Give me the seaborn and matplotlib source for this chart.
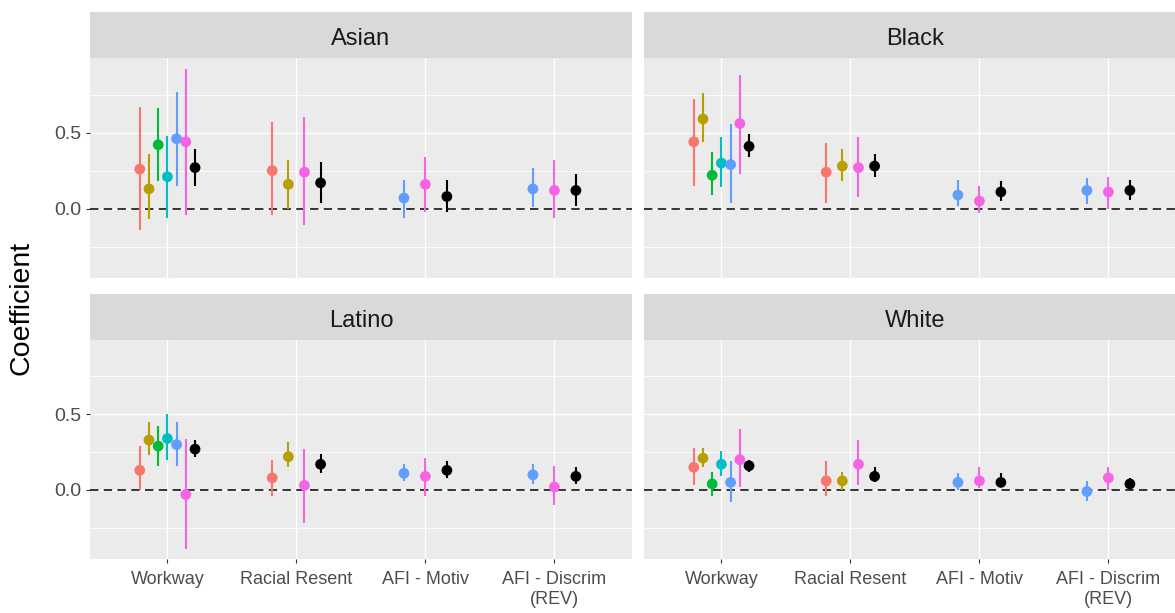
import numpy as np
import pandas as pd
import matplotlib
matplotlib.use("Agg")
import matplotlib.pyplot as plt
import seaborn as sns

# Outcome measures on the x axis
categories = ["Workway", "Racial Resent", "AFI - Motiv", "AFI - Discrim\n(REV)"]
# Model specifications (colour groups); the last one is the pooled estimate
models = ["M1", "M2", "M3", "M4", "M5", "M6", "Pooled"]
model_colors = ["#F8766D", "#B79F00", "#00BA38", "#00BFC4", "#619CFF", "#F564E3", "#000000"]
groups = ["Asian", "Black", "Latino", "White"]

N = None
# Point estimates: one row per outcome, one entry per model (None = not estimated)
asian_est = [[0.26, 0.13, 0.42, 0.21, 0.46, 0.44, 0.27],
             [0.25, 0.16, N, N, N, 0.24, 0.17],
             [N, N, N, N, 0.07, 0.16, 0.08],
             [N, N, N, N, 0.13, 0.12, 0.12]]
asian_lo = [[-0.14, -0.07, 0.18, -0.06, 0.15, -0.04, 0.15],
            [-0.04, 0.00, N, N, N, -0.11, 0.04],
            [N, N, N, N, -0.06, -0.02, -0.02],
            [N, N, N, N, 0.01, -0.06, 0.02]]
asian_hi = [[0.67, 0.36, 0.66, 0.48, 0.77, 0.92, 0.39],
            [0.57, 0.32, N, N, N, 0.60, 0.31],
            [N, N, N, N, 0.19, 0.34, 0.19],
            [N, N, N, N, 0.27, 0.32, 0.23]]

black_est = [[0.44, 0.59, 0.22, 0.30, 0.29, 0.56, 0.41],
             [0.24, 0.28, N, N, N, 0.27, 0.28],
             [N, N, N, N, 0.09, 0.05, 0.11],
             [N, N, N, N, 0.12, 0.11, 0.12]]
black_lo = [[0.15, 0.44, 0.09, 0.14, 0.04, 0.23, 0.34],
            [0.04, 0.18, N, N, N, 0.08, 0.21],
            [N, N, N, N, 0.02, -0.03, 0.05],
            [N, N, N, N, 0.03, 0.00, 0.06]]
black_hi = [[0.72, 0.76, 0.37, 0.47, 0.56, 0.88, 0.49],
            [0.43, 0.39, N, N, N, 0.47, 0.36],
            [N, N, N, N, 0.19, 0.15, 0.18],
            [N, N, N, N, 0.20, 0.21, 0.19]]

latino_est = [[0.13, 0.33, 0.29, 0.34, 0.30, -0.03, 0.27],
              [0.08, 0.22, N, N, N, 0.03, 0.17],
              [N, N, N, N, 0.11, 0.09, 0.13],
              [N, N, N, N, 0.10, 0.02, 0.09]]
latino_lo = [[0.00, 0.23, 0.16, 0.20, 0.16, -0.39, 0.22],
             [-0.04, 0.15, N, N, N, -0.22, 0.11],
             [N, N, N, N, 0.06, -0.04, 0.08],
             [N, N, N, N, 0.04, -0.10, 0.04]]
latino_hi = [[0.29, 0.45, 0.42, 0.50, 0.45, 0.34, 0.33],
             [0.20, 0.32, N, N, N, 0.27, 0.24],
             [N, N, N, N, 0.17, 0.21, 0.19],
             [N, N, N, N, 0.17, 0.16, 0.15]]

white_est = [[0.15, 0.21, 0.04, 0.17, 0.05, 0.20, 0.16],
             [0.06, 0.06, N, N, N, 0.17, 0.09],
             [N, N, N, N, 0.05, 0.06, 0.05],
             [N, N, N, N, -0.01, 0.08, 0.04]]
white_lo = [[0.03, 0.15, -0.04, 0.09, -0.08, 0.02, 0.12],
            [-0.04, 0.00, N, N, N, 0.03, 0.05],
            [N, N, N, N, 0.00, 0.01, 0.02],
            [N, N, N, N, -0.07, 0.00, 0.00]]
white_hi = [[0.28, 0.28, 0.12, 0.26, 0.19, 0.40, 0.20],
            [0.19, 0.12, N, N, N, 0.33, 0.15],
            [N, N, N, N, 0.11, 0.15, 0.11],
            [N, N, N, N, 0.06, 0.15, 0.08]]

group_tables = {
    "Asian": (asian_est, asian_lo, asian_hi),
    "Black": (black_est, black_lo, black_hi),
    "Latino": (latino_est, latino_lo, latino_hi),
    "White": (white_est, white_lo, white_hi),
}

# Long table with dodged x positions (dodge width 0.5 shared by the models present)
DODGE = 0.5
rows = []
for g in groups:
    est, lo, hi = group_tables[g]
    for ci, cat in enumerate(categories):
        present = [m for m in range(len(models)) if est[ci][m] is not None]
        n = len(present)
        for k, m in enumerate(present):
            xpos = ci + (k - (n - 1) / 2) * DODGE / n
            rows.append(dict(group=g, outcome=cat, model=models[m], x=xpos,
                             est=est[ci][m], lo=lo[ci][m], hi=hi[ci][m]))
df = pd.DataFrame(rows)

sns.set_theme(style="darkgrid")
plt.rcParams["font.family"] = ["Liberation Sans", "DejaVu Sans"]

W, H = 1175, 613
fig = plt.figure(figsize=(W / 100, H / 100), dpi=100)
fig.patch.set_facecolor("white")

panel_w = 541.8
panel_left = [90, 644, 90, 644]
panel_top = [58, 58, 340, 340]
panel_h = [220, 220, 219, 219]
strip_h = 46

palette = dict(zip(models, model_colors))

for i, g in enumerate(groups):
    x0, t0, h0 = panel_left[i], panel_top[i], panel_h[i]
    ax = fig.add_axes([x0 / W, (H - t0 - h0) / H, panel_w / W, h0 / H])
    ax.set_facecolor("#EBEBEB")
    for s in ax.spines.values():
        s.set_visible(False)

    ax.set_xlim(-0.6, 3.6)
    ax.set_ylim(-0.456, 0.991)
    ax.set_yticks([0.0, 0.5])
    ax.set_yticks([-0.25, 0.25, 0.75], minor=True)
    ax.set_xticks(range(len(categories)))
    ax.grid(False)
    ax.grid(which="major", axis="both", color="white", linewidth=1.0)
    ax.grid(which="minor", axis="y", color="white", linewidth=0.6)
    ax.set_axisbelow(True)

    ax.axhline(0, color="black", linewidth=1.1, linestyle=(0, (5.5, 3.5)), zorder=1.5)

    sub = df[df["group"] == g]
    for m in models:
        s = sub[sub["model"] == m]
        ax.vlines(s["x"], s["lo"], s["hi"], color=palette[m], linewidth=1.5, zorder=2)
    sns.scatterplot(data=sub, x="x", y="est", hue="model", palette=palette,
                    hue_order=models, s=60, linewidth=0, legend=False, ax=ax, zorder=3)
    ax.set_xlabel("")
    ax.set_ylabel("")

    ax.tick_params(which="minor", length=0)
    if i % 2 == 0:
        ax.set_yticklabels(["0.0", "0.5"])
        ax.tick_params(axis="y", which="major", length=3, width=0.8, color="#333333",
                       labelcolor="#4D4D4D", labelsize=14, pad=3, left=True)
    else:
        ax.tick_params(axis="y", which="major", length=0, labelleft=False)
    if i >= 2:
        ax.set_xticklabels(categories, linespacing=1.2)
        ax.tick_params(axis="x", which="major", length=3, width=0.8, color="#333333",
                       labelcolor="#4D4D4D", labelsize=13, pad=6, bottom=True)
    else:
        ax.tick_params(axis="x", which="major", length=0, labelbottom=False)

    # facet strip
    sax = fig.add_axes([x0 / W, (H - t0) / H, panel_w / W, strip_h / H])
    sax.set_facecolor("#D9D9D9")
    sax.set_xticks([])
    sax.set_yticks([])
    for s in sax.spines.values():
        s.set_visible(False)
    sax.text(0.5, 0.42, g, ha="center", va="center", fontsize=17, color="#1A1A1A",
             transform=sax.transAxes)

fig.text(22 / W, 1 - 308 / H, "Coefficient", rotation=90, ha="center", va="center",
         fontsize=20.5, color="black")

fig.savefig("out.png", dpi=100, facecolor="white")
